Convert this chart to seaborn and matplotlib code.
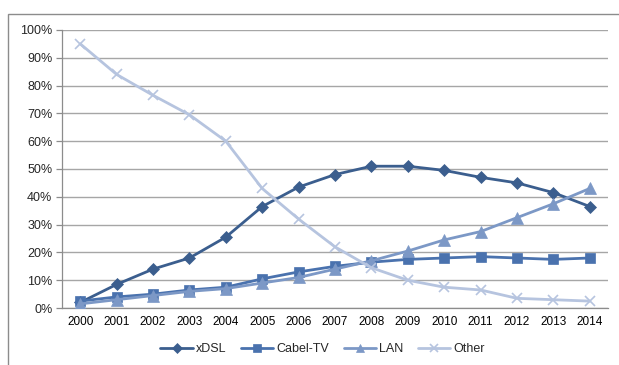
import pandas as pd
import seaborn as sns
import matplotlib.pyplot as plt
from matplotlib.patches import Rectangle
from matplotlib.ticker import FuncFormatter, MultipleLocator

years = list(range(2000, 2015))
xdsl = [2, 8.5, 14, 18, 25.5, 36.5, 43.5, 48, 51, 51, 49.5, 47, 45, 41.5, 36.5]
cabel_tv = [2.5, 4, 5, 6.5, 7.5, 10.5, 13, 15, 16.5, 17.5, 18, 18.5, 18, 17.5, 18]
lan = [1.5, 3, 4.5, 6, 7, 9, 11, 14, 17, 20.5, 24.5, 27.5, 32.5, 37.5, 43]
other = [95, 84, 76.5, 69.5, 60, 43, 32, 22, 14.5, 10, 7.5, 6.5, 3.5, 3, 2.5]
series = ['xDSL', 'Cabel-TV', 'LAN', 'Other']

df = pd.DataFrame({'Year': years * 4,
                   'Share': xdsl + cabel_tv + lan + other,
                   'Series': [s for s in series for _ in years]})

colors = {'xDSL': '#3B5E8E', 'Cabel-TV': '#4A72AE', 'LAN': '#7C98C6', 'Other': '#B6C4DF'}
markers = {'xDSL': 'D', 'Cabel-TV': 's', 'LAN': '^', 'Other': 'x'}
msizes = {'xDSL': 6, 'Cabel-TV': 7.5, 'LAN': 8, 'Other': 7}

sns.set_style('white')
plt.rcParams['font.family'] = ['Liberation Sans', 'DejaVu Sans']

fig = plt.figure(figsize=(6.19, 3.65), dpi=100)
ax = fig.add_axes([0.1002, 0.156, 0.882, 0.762])

# outer chart border
fig.patches.append(Rectangle((8 / 619, -0.05), 1.2, 1 - 14 / 365 + 0.05,
                             transform=fig.transFigure, fill=False,
                             edgecolor='#8C8C8C', linewidth=1.0))

for s in series:
    sub = df[df['Series'] == s]
    sns.lineplot(data=sub, x='Year', y='Share', ax=ax, color=colors[s],
                 marker=markers[s], markersize=msizes[s], linewidth=2.0,
                 markeredgecolor=colors[s], markeredgewidth=1.2 if s == 'Other' else 0.5,
                 label=s, zorder=3)

ax.set_xlim(1999.5, 2014.5)
ax.set_ylim(0, 100)
ax.yaxis.set_major_locator(MultipleLocator(10))
ax.yaxis.set_major_formatter(FuncFormatter(lambda v, p: f'{v:.0f}%'))
ax.set_xticks(years)
ax.set_xticks([y + 0.5 for y in range(1999, 2015)], minor=True)
ax.tick_params(axis='x', which='major', length=0, labelsize=8.5, colors='#000000', pad=6)
ax.tick_params(axis='x', which='minor', length=5, width=0.9, color='#8C8C8C', direction='out')
ax.tick_params(axis='y', which='major', length=4, width=0.9, color='#8C8C8C',
               direction='out', labelsize=9, pad=3, left=True)
ax.grid(axis='y', color='#A6A6A6', linewidth=1.0)
ax.set_axisbelow(True)
for side in ['top', 'right']:
    ax.spines[side].set_visible(False)
for side in ['left', 'bottom']:
    ax.spines[side].set_color('#8C8C8C')
    ax.spines[side].set_linewidth(0.9)
ax.set_xlabel('')
ax.set_ylabel('')

ax.legend(loc='center', bbox_to_anchor=(0.477, -0.148), ncol=4, frameon=False,
          fontsize=9, handlelength=2.6, columnspacing=1.2, handletextpad=0.2,
          markerscale=0.8)

fig.savefig('out.png', dpi=100)
